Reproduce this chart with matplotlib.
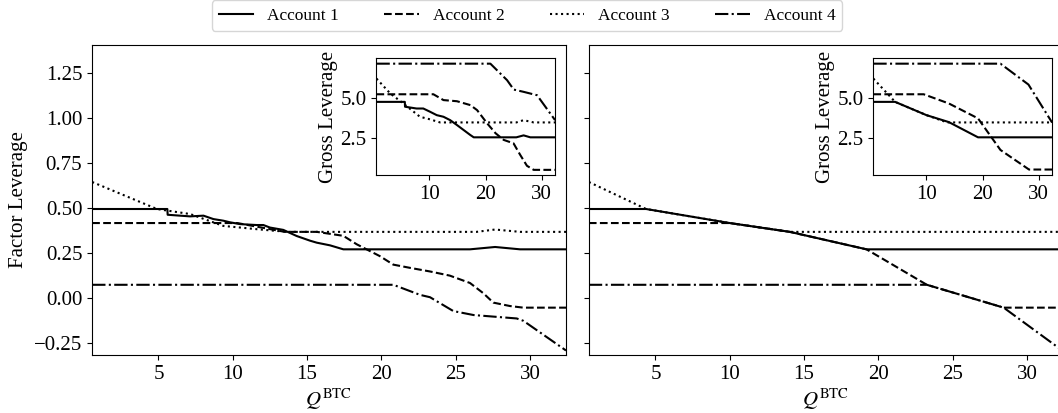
import matplotlib
matplotlib.use('Agg')
import matplotlib.pyplot as plt

plt.rcParams['font.family'] = ['Liberation Serif', 'DejaVu Serif']
plt.rcParams['mathtext.fontset'] = 'stix'

# account names and line styles
accounts = ['Account 1', 'Account 2', 'Account 3', 'Account 4']
styles = ['-', '--', ':', '-.']

# ---- left panel, factor leverage vs Q^BTC ----
l_q1 = [0.54, 5.6, 5.62, 7.13, 8.03, 8.7, 9.37, 9.82, 10.5, 11.6, 12.06, 12.5, 13.4, 14.3, 15.2, 15.65, 16.55, 17.44, 25.96, 27.65, 29.33, 32.42]
l_f1 = [0.494, 0.494, 0.462, 0.453, 0.457, 0.438, 0.429, 0.42, 0.41, 0.405, 0.405, 0.391, 0.378, 0.344, 0.318, 0.307, 0.292, 0.27, 0.27, 0.283, 0.27, 0.27]
l_q2 = [0.54, 10.3, 12.0, 13.5, 15.65, 17.44, 18.34, 19.9, 20.8, 21.93, 23.27, 24.6, 25.96, 26.86, 27.53, 28.65, 29.55, 32.42]
l_f2 = [0.416, 0.416, 0.39, 0.367, 0.367, 0.345, 0.298, 0.232, 0.185, 0.167, 0.147, 0.124, 0.083, 0.026, -0.026, -0.045, -0.054, -0.054]
l_q3 = [0.54, 4.9, 7.13, 9.37, 10.5, 11.6, 12.96, 13.86, 26.4, 27.65, 29.33, 32.42]
l_f3 = [0.644, 0.494, 0.466, 0.40, 0.391, 0.382, 0.372, 0.367, 0.367, 0.38, 0.367, 0.367]
l_q4 = [0.54, 20.8, 22.6, 23.27, 24.84, 26.2, 29.1, 29.55, 32.42]
l_f4 = [0.073, 0.073, 0.017, 0.004, -0.073, -0.095, -0.114, -0.127, -0.292]

# left panel inset, gross leverage
l_g_q1 = [0.54, 5.6, 5.64, 7.7, 8.9, 10.1, 11.3, 12.5, 13.7, 14.9, 16.1, 17.3, 17.9, 25.5, 26.8, 28.0, 32.42]
l_g1 = [4.73, 4.73, 4.43, 4.32, 4.32, 4.12, 3.91, 3.81, 3.6, 3.3, 2.99, 2.68, 2.54, 2.54, 2.66, 2.54, 2.54]
l_g_q2 = [0.54, 10.7, 12.5, 14.9, 17.3, 18.5, 20.3, 21.8, 23.25, 25.0, 26.2, 27.4, 28.6, 32.42]
l_g2 = [5.2, 5.2, 4.84, 4.77, 4.53, 4.22, 3.4, 2.79, 2.38, 2.17, 1.45, 0.78, 0.53, 0.53]
l_g_q3 = [0.54, 3.0, 5.34, 8.3, 10.1, 11.9, 25.5, 26.8, 28.6, 32.42]
l_g3 = [6.17, 5.25, 4.63, 3.81, 3.65, 3.46, 3.46, 3.6, 3.46, 3.46]
l_g_q4 = [0.54, 20.87, 23.85, 25.04, 26.8, 29.2, 32.42]
l_g4 = [7.09, 7.09, 6.07, 5.49, 5.35, 5.14, 3.6]

# ---- right panel ----
r_q1 = [0.52, 4.37, 10.0, 14.04, 19.2, 32.42]
r_f1 = [0.494, 0.494, 0.416, 0.367, 0.27, 0.27]
r_q2 = [0.52, 9.8, 10.0, 14.04, 19.2, 23.26, 28.43, 32.42]
r_f2 = [0.416, 0.416, 0.416, 0.367, 0.27, 0.073, -0.054, -0.054]
r_q3 = [0.52, 4.37, 10.0, 14.04, 32.42]
r_f3 = [0.644, 0.494, 0.416, 0.367, 0.367]
r_q4 = [0.52, 23.26, 28.43, 32.42]
r_f4 = [0.073, 0.073, -0.054, -0.295]

r_g_q1 = [0.52, 4.4, 10.0, 14.0, 19.2, 32.42]
r_g1 = [4.73, 4.73, 3.91, 3.48, 2.54, 2.54]
r_g_q2 = [0.52, 9.5, 14.0, 19.2, 23.2, 28.3, 32.42]
r_g2 = [5.2, 5.2, 4.63, 3.71, 1.76, 0.55, 0.55]
r_g_q3 = [0.52, 4.4, 10.0, 13.7, 32.42]
r_g3 = [6.17, 4.73, 3.91, 3.46, 3.46]
r_g_q4 = [0.52, 23.2, 28.2, 32.42]
r_g4 = [7.09, 7.09, 5.8, 3.45]

left_main = [(l_q1, l_f1), (l_q2, l_f2), (l_q3, l_f3), (l_q4, l_f4)]
left_ins = [(l_g_q1, l_g1), (l_g_q2, l_g2), (l_g_q3, l_g3), (l_g_q4, l_g4)]
right_main = [(r_q1, r_f1), (r_q2, r_f2), (r_q3, r_f3), (r_q4, r_f4)]
right_ins = [(r_g_q1, r_g1), (r_g_q2, r_g2), (r_g_q3, r_g3), (r_g_q4, r_g4)]

W, H = 1058, 413
fig = plt.figure(figsize=(W / 100, H / 100), dpi=100)
ax1 = fig.add_axes([92 / W, 58 / H, 474 / W, 310 / H])
ax2 = fig.add_axes([589 / W, 58 / H, 474 / W, 310 / H], sharey=ax1)

fs = 15
handles = []
for ax, main, ins in [(ax1, left_main, left_ins), (ax2, right_main, right_ins)]:
    for (q, f), ls, name in zip(main, styles, accounts):
        h, = ax.plot(q, f, ls, color='black', lw=1.5, label=name)
        if ax is ax1:
            handles.append(h)
    ax.set_xlim(0.53, 32.42)
    ax.set_xticks([5, 10, 15, 20, 25, 30])
    ax.set_xlabel(r'$Q^{\mathrm{BTC}}$', fontsize=fs, labelpad=2)
    ax.tick_params(labelsize=fs)

    # inset with gross leverage
    axin = ax.inset_axes([0.6, 0.58, 0.377, 0.377])
    for (q, g), ls in zip(ins, styles):
        axin.plot(q, g, ls, color='black', lw=1.5)
    axin.set_xlim(0.53, 32.42)
    axin.set_xticks([10, 20, 30])
    axin.set_yticks([2.5, 5.0])
    axin.set_ylim(0.2, 7.42)
    axin.tick_params(labelsize=fs)
    axin.set_ylabel('Gross Leverage', fontsize=fs, labelpad=2)

ax1.set_ylim(-0.317, 1.405)
ax1.set_yticks([-0.25, 0.0, 0.25, 0.5, 0.75, 1.0, 1.25])
ax1.set_ylabel('Factor Leverage', fontsize=fs)
plt.setp(ax2.get_yticklabels(), visible=False)

fig.legend(handles=handles, loc='upper center', bbox_to_anchor=(0.498, 1.003),
           ncol=4, fontsize=12.5, columnspacing=2.6, borderaxespad=0.1)

fig.savefig('out.png', dpi=100)
